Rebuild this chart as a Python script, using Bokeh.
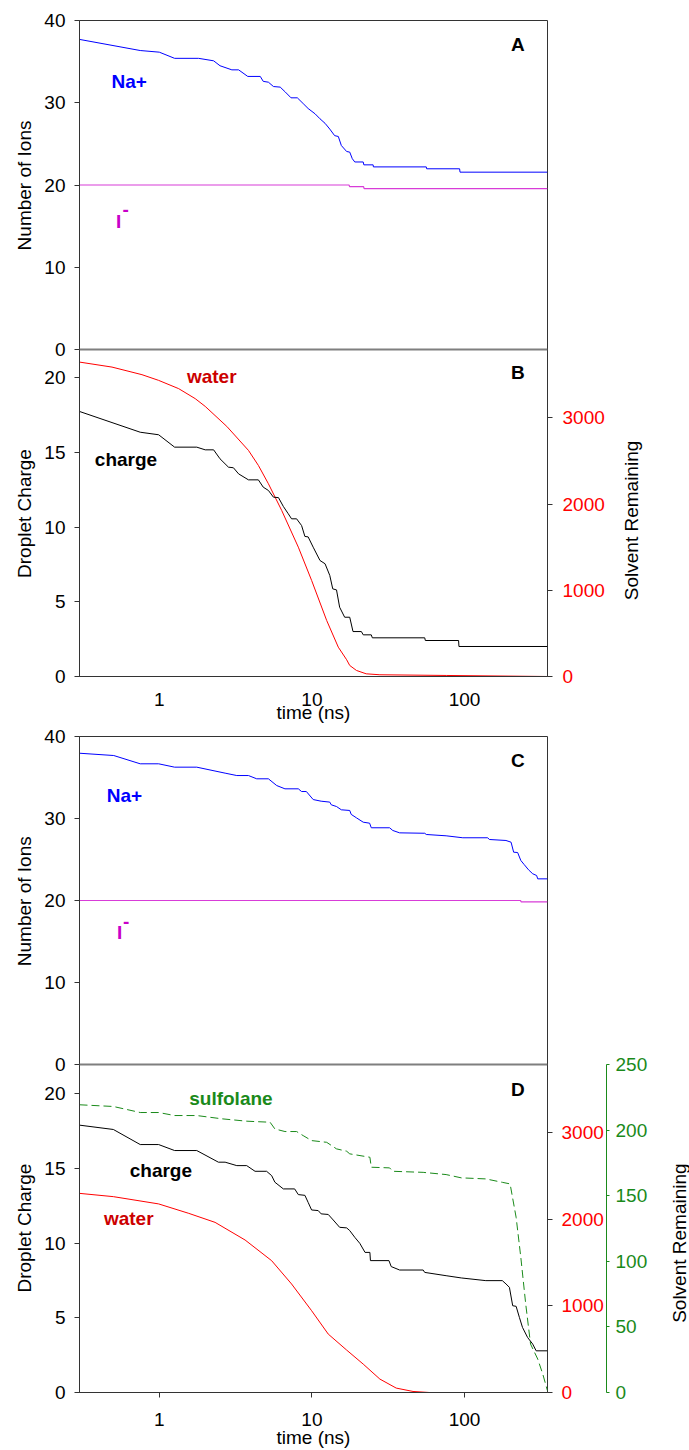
import math
from bokeh.plotting import figure
from bokeh.models import (Range1d, LinearAxis, FixedTicker, CustomJSTickFormatter,
                          PrintfTickFormatter, Label, Span)
from bokeh.layouts import column, row
from bokeh.embed import file_html
from bokeh.resources import INLINE

# ---------------- data ----------------
# Panel A: number of ions (water droplet)
a_na_t = [0.3, 0.75, 1.0, 1.26, 1.81, 2.27, 2.5, 2.99, 3.31, 3.8, 4.59, 4.8, 5.19, 5.6, 6.2, 6.7, 7.3,
          8.03, 8.77, 9.45, 10.5, 11.3, 12.2, 13.1, 14.1, 14.9, 15.6, 16.9, 17.7, 18.4, 19.1, 21.7,
          21.9, 25.2, 25.3, 56.2, 56.5, 92.9, 93.5, 350]
a_na_v = [37.7, 36.35, 36.15, 35.4, 35.4, 35.1, 34.5, 34.0, 34.0, 33.2, 33.2, 32.6, 32.5, 31.97, 31.9,
          31.3, 30.6, 30.6, 29.9, 29.3, 28.65, 28.05, 27.5, 26.8, 26.0, 25.9, 24.8, 24.07, 24.0, 23.2,
          22.8, 22.8, 22.45, 22.45, 22.2, 22.2, 21.97, 21.97, 21.56, 21.56]
a_i_t = [0.3, 17.5, 17.7, 21.8, 22.0, 350]
a_i_v = [20.0, 20.0, 19.8, 19.8, 19.57, 19.57]

# Panel B: droplet charge and water remaining
b_chg_t = [0.3, 0.75, 0.99, 1.26, 1.76, 2.0, 2.27, 2.5, 2.84, 3.06, 3.31, 3.84, 4.46, 4.8, 5.19, 5.6,
           6.04, 6.5, 7.0, 7.36, 7.94, 8.56, 9.0, 9.45, 10.2, 11.3, 12.2, 13.1, 13.7, 14.5, 15.2, 16.4,
           17.7, 18.6, 21.1, 21.7, 24.5, 24.9, 54.9, 55.4, 91.5, 92.0, 350]
b_chg_v = [17.75, 16.36, 16.19, 15.36, 15.36, 15.18, 15.18, 14.58, 14.02, 13.98, 13.57, 13.17, 13.17,
           12.68, 12.46, 12.01, 11.98, 11.39, 10.9, 10.56, 10.56, 10.11, 9.38, 9.35, 8.66, 7.77, 7.55,
           6.77, 5.87, 5.8, 4.64, 3.97, 3.97, 3.01, 3.01, 2.79, 2.79, 2.59, 2.59, 2.41, 2.41, 2.01, 2.01]
b_wat_t = [0.3, 0.49, 0.77, 0.99, 1.34, 1.72, 2.0, 2.77, 3.84, 4.46, 5.19, 6.34, 8.15, 9.96, 12.5,
           14.9, 16.9, 17.7, 19.6, 22.7, 27.9, 76, 350]
b_wat_v = [3646, 3588, 3500, 3434, 3338, 3222, 3132, 2900, 2622, 2448, 2235, 1926, 1500, 1114, 650,
           340, 194, 128, 70, 31, 20, 12, 0]

# Panel C: number of ions (water/sulfolane droplet)
c_na_t = [0.3, 0.503, 0.75, 0.99, 1.26, 1.76, 2.7, 3.22, 3.84, 4.35, 5.19, 5.88, 6.66, 8.15, 8.56, 9.2,
          10.2, 11.5, 13.1, 13.4, 14.5, 15.6, 17.7, 18.1, 19.6, 21.7, 23.9, 24.5, 32.3, 33.9, 37.6,
          54.9, 56.2, 75.8, 97.5, 142, 145.5, 187, 202, 210, 223, 234, 246, 263, 280, 297, 302, 350]
c_na_v = [37.96, 37.68, 36.67, 36.67, 36.26, 36.26, 35.53, 35.24, 35.24, 34.84, 34.84, 34.02, 33.62,
          33.62, 33.29, 33.29, 32.31, 32.11, 32.0, 31.67, 31.46, 31.06, 30.98, 30.5, 30.08, 29.55,
          29.43, 28.87, 28.87, 28.54, 28.25, 28.2, 28.05, 27.89, 27.65, 27.65, 27.44, 27.32, 27.11,
          25.89, 25.85, 24.88, 24.39, 23.74, 23.26, 23.05, 22.64, 22.64]
c_i_t = [0.3, 233, 235, 350]
c_i_v = [20.0, 20.0, 19.84, 19.84]

# Panel D: droplet charge, water and sulfolane remaining
d_chg_t = [0.3, 0.5, 0.75, 0.99, 1.26, 1.76, 2.44, 2.7, 3.22, 3.74, 4.24, 5.05, 5.45, 5.72, 6.5, 7.71,
           8.15, 9.0, 9.45, 9.96, 11.0, 11.5, 12.8, 13.8, 15.2, 16.9, 17.7, 19.1, 20.6, 22.3, 24.0,
           24.2, 32, 33.1, 37.6, 53.6, 54.9, 75.8, 95.3, 138, 177, 187, 197, 207, 218, 229, 240, 259,
           280, 295, 350]
d_chg_v = [17.9, 17.61, 16.6, 16.6, 16.2, 16.2, 15.42, 15.42, 15.19, 15.19, 14.81, 14.81, 14.52, 14.08,
           13.63, 13.63, 13.25, 13.2, 12.73, 12.22, 12.18, 11.96, 11.92, 11.55, 11.06, 11.02, 10.84,
           10.39, 9.99, 9.38, 9.38, 8.83, 8.83, 8.43, 8.2, 8.2, 8.04, 7.82, 7.67, 7.49, 7.49, 7.27,
           7.04, 5.81, 5.77, 5.03, 4.36, 3.69, 3.24, 2.79, 2.79]
d_sul_t = [0.3, 0.5, 0.75, 0.99, 1.26, 1.76, 2.57, 3.74, 4.24, 5.32, 5.72, 6.66, 7.94, 8.77, 9.96, 12.5,
           14.5, 16.9, 17.7, 24.0, 24.5, 32.3, 33.9, 53.6, 75.8, 95.3, 138, 177, 199, 218, 234, 252,
           271, 302, 326, 350]
d_sul_v = [219.3, 218, 213.4, 213.4, 211.1, 211.1, 208.6, 206.8, 206.5, 206, 200.9, 198.9, 198.9, 195.8,
           192, 190.7, 185.7, 183.9, 181.9, 179.3, 171.7, 171.2, 168.6, 167.8, 166.1, 163.6, 162.8,
           160.2, 159, 133.5, 103, 67.4, 36.9, 25.5, 14.0, 1.3]
d_wat_t = [0.3, 0.5, 0.99, 1.56, 2.32, 3.65, 5.45, 7.36, 9.96, 12.8, 16.9, 21.7, 27.9, 35.7, 46, 58.8, 350]
d_wat_v = [2301, 2263, 2179, 2070, 1966, 1762, 1523, 1254, 945, 675, 490, 328, 155, 51, 12, 0, 0]

time_ticks = [1, 10, 100]
ion_ticks = [0, 10, 20, 30, 40]
charge_ticks = [0, 5, 10, 15, 20]
water_ticks = [0, 1000, 2000, 3000]
sulf_ticks = [0, 50, 100, 150, 200, 250]

# ---------------- styling ----------------
FONT = "Liberation Sans"
FS = "19px"
AX = "#333333"
BLUE = "#0000ff"
MAG_LINE = "#d83cd8"
MAG_TXT = "#c800c8"
RED = "#ff0000"
DRED = "#cc0000"
GREEN = "#1a8a1a"


def style_axis(ax, tick_out=5, standoff=9, color="black"):
    ax.axis_line_color = AX
    ax.major_tick_line_color = AX
    ax.major_tick_out = tick_out
    ax.major_tick_in = 0
    ax.minor_tick_line_color = None
    ax.major_label_text_font = FONT
    ax.major_label_text_font_size = FS
    ax.major_label_text_color = color
    ax.major_label_standoff = standoff


def make_title_axis(ax, ticks, code, standoff, args):
    """Turn an axis into one without line/ticks whose only (rotated) labels are axis titles."""
    ax.ticker = FixedTicker(ticks=ticks)
    ax.formatter = CustomJSTickFormatter(args=args, code=code)
    style_axis(ax, tick_out=0, standoff=standoff)
    ax.axis_line_color = None
    ax.major_tick_line_color = None
    ax.major_label_orientation = math.pi / 2
    return ax


def make_pair(width, top_pad, bot_pad, h_ion, h_chg, chg_top, water_top, xtick_out, xstand, tstand,
              ion_title_a, chg_title_y, red_stand, with_sulf=False):
    frame_h = h_ion + h_chg
    y_end = chg_top * frame_h / h_chg
    k = (y_end - chg_top) / 40.0
    p = figure(width=width, height=top_pad + frame_h + bot_pad, x_axis_type="log",
               x_range=Range1d(0.3, 350), y_range=Range1d(0, y_end),
               output_backend="svg", toolbar_location=None,
               min_border_left=77, min_border_right=width - 547,
               min_border_top=top_pad, min_border_bottom=bot_pad)
    p.extra_y_ranges = {
        "ions": Range1d(-chg_top / k, 40),
        "solv": Range1d(0, water_top * frame_h / h_chg),
        "sulf": Range1d(0, 250.0 * frame_h / h_chg),
    }
    p.grid.visible = False
    p.outline_line_color = AX
    p.outline_line_width = 1
    p.background_fill_color = "white"
    p.border_fill_color = "white"

    # bottom (time) axis
    xax = p.xaxis[0]
    xax.ticker = FixedTicker(ticks=time_ticks)
    xax.formatter = PrintfTickFormatter(format="%d")
    style_axis(xax, tick_out=xtick_out, standoff=xstand)
    xax.axis_label = "time (ns)"
    xax.axis_label_text_font = FONT
    xax.axis_label_text_font_size = FS
    xax.axis_label_text_font_style = "normal"
    xax.axis_label_text_color = "black"
    xax.axis_label_standoff = tstand

    # left axis: charge ticks below, ion ticks above
    yax = p.yaxis[0]
    yax.ticker = FixedTicker(ticks=charge_ticks + [chg_top + a * k for a in ion_ticks])
    yax.formatter = CustomJSTickFormatter(
        args=dict(split=chg_top, k=k),
        code="const v = (tick >= split - 1e-6) ? (tick - split) / k : tick; return Math.round(v).toString();")
    style_axis(yax, tick_out=5, standoff=9)

    # outer left axis carrying the two axis titles
    p.add_layout(make_title_axis(LinearAxis(), [chg_title_y, chg_top + ion_title_a * k],
                                 "return tick > split ? 'Number of Ions' : 'Droplet Charge';",
                                 17, dict(split=chg_top)), "left")

    # right axis: water remaining
    rax = LinearAxis(y_range_name="solv", ticker=FixedTicker(ticks=water_ticks), bounds=(0, water_top))
    style_axis(rax, tick_out=5, standoff=red_stand, color=RED)
    rax.axis_line_color = None
    p.add_layout(rax, "right")

    if with_sulf:
        gax = LinearAxis(y_range_name="sulf", ticker=FixedTicker(ticks=sulf_ticks), bounds=(0, 250))
        style_axis(gax, tick_out=3, standoff=6, color=GREEN)
        gax.axis_line_color = GREEN
        gax.major_tick_line_color = GREEN
        p.add_layout(gax, "right")

    # separating line between the upper (ions) and lower (charge) panel
    p.add_layout(Span(location=chg_top, dimension="width", line_color="#7f7f7f", line_width=2))
    return p


def lab(p, text, x, y, rng="default", color="black", align="left"):
    p.add_layout(Label(x=x, y=y, y_range_name=rng, text=text, text_font=FONT, text_font_size=FS,
                       text_font_style="bold", text_color=color,
                       text_align=align, text_baseline="middle"))


# ---------------- pair 1: panels A & B ----------------
p1 = make_pair(689, 20, 49, 329, 327, 21.9, 3792, 0, 16, -7, 27.84, 15.23, 10)
# right title axis ("Solvent Remaining") outside the water axis
p1.add_layout(make_title_axis(LinearAxis(), [5.11], "return 'Solvent Remaining';", 24, {}), "right")
p1.line(a_na_t, a_na_v, y_range_name="ions", line_color=BLUE, line_width=1)
p1.line(a_i_t, a_i_v, y_range_name="ions", line_color=MAG_LINE, line_width=1.2)
p1.line(b_wat_t, b_wat_v, y_range_name="solv", line_color=RED, line_width=1)
p1.line(b_chg_t, b_chg_v, line_color="black", line_width=1)

lab(p1, "Na+", 0.4857, 32.55, "ions", BLUE)
lab(p1, "I", 0.52, 15.62, "ions", MAG_TXT)
lab(p1, "-", 0.573, 16.97, "ions", MAG_TXT)
lab(p1, "A", 248, 37.1, "ions", align="right")
lab(p1, "water", 1.517, 20.09, color=DRED)
lab(p1, "charge", 0.378, 14.51)
lab(p1, "B", 248, 20.35, align="right")

# ---------------- pair 2: panels C & D ----------------
SIDE_W = 38
p2 = make_pair(689 - SIDE_W, 11, 58, 328, 328, 21.96, 3790, 5, 15, -2, 27.83, 15.32, 9, with_sulf=True)
p2.line(c_na_t, c_na_v, y_range_name="ions", line_color=BLUE, line_width=1)
p2.line(c_i_t, c_i_v, y_range_name="ions", line_color=MAG_LINE, line_width=1.2)
p2.line(d_wat_t, d_wat_v, y_range_name="solv", line_color=RED, line_width=1)
p2.line(d_sul_t, d_sul_v, y_range_name="sulf", line_color=GREEN, line_width=1, line_dash="8 4")
p2.line(d_chg_t, d_chg_v, line_color="black", line_width=1)

lab(p2, "Na+", 0.4523, 32.8, "ions", BLUE)
lab(p2, "I", 0.5277, 16.13, "ions", MAG_TXT)
lab(p2, "-", 0.578, 17.5, "ions", MAG_TXT)
lab(p2, "C", 248, 37.11, "ions", align="right")
lab(p2, "sulfolane", 1.571, 19.66, color=GREEN)
lab(p2, "charge", 0.640, 14.86)
lab(p2, "water", 0.4335, 11.62, color=DRED)
lab(p2, "D", 248, 20.27, align="right")

# narrow companion figure carrying the "Solvent Remaining" title of panel D
side = figure(width=SIDE_W, height=11 + 656 + 58, x_range=Range1d(0, 1), y_range=p2.y_range,
              output_backend="svg", toolbar_location=None,
              min_border_left=SIDE_W - 2, min_border_right=0, min_border_top=11, min_border_bottom=58)
side.grid.visible = False
side.outline_line_color = None
side.border_fill_color = "white"
side.xaxis.visible = False
make_title_axis(side.yaxis[0], [15.34], "return 'Solvent Remaining';", 8, {})

layout = column(p1, row(p2, side, spacing=0), spacing=0)
open("out.html", "w").write(file_html(layout, INLINE))
